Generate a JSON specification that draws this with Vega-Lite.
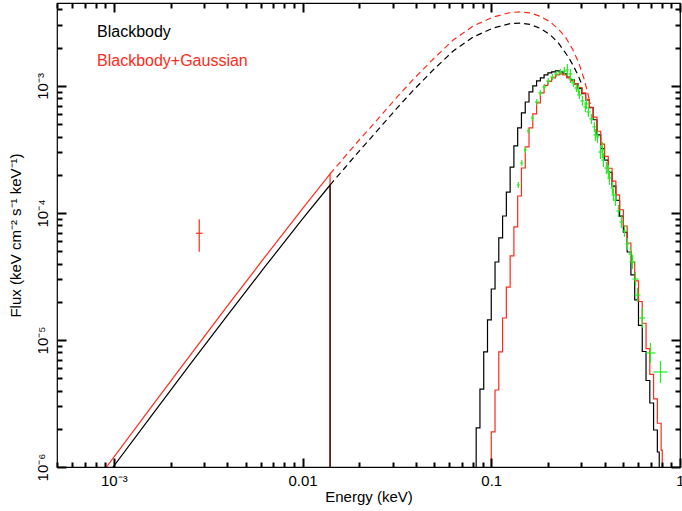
{
  "$schema": "https://vega.github.io/schema/vega-lite/v6.json",
  "width": 623,
  "height": 464,
  "autosize": {"type": "none"},
  "padding": {"left": 57, "top": 3, "right": 2, "bottom": 44},
  "background": "white",
  "config": {
    "font": "Liberation Sans",
    "view": {"stroke": "black", "strokeWidth": 1.2},
    "axis": {"domain": false, "grid": false, "labelColor": "black", "titleColor": "black", "labelFont": "Liberation Sans", "titleFont": "Liberation Sans", "labelFontSize": 15, "titleFontSize": 15, "titleFontWeight": "normal", "labelOverlap": false, "labelFlush": false, "labelBound": false}
  },
  "datasets": {
    "hist": [
      {"model": "Blackbody", "E": 0.08318, "F": 1e-8},
      {"model": "Blackbody", "E": 0.08318, "F": 2.03e-6},
      {"model": "Blackbody", "E": 0.0871, "F": 4.11e-6},
      {"model": "Blackbody", "E": 0.0912, "F": 8.05e-6},
      {"model": "Blackbody", "E": 0.0955, "F": 1.44e-5},
      {"model": "Blackbody", "E": 0.1, "F": 2.52e-5},
      {"model": "Blackbody", "E": 0.1047, "F": 4.11e-5},
      {"model": "Blackbody", "E": 0.1096, "F": 6.36e-5},
      {"model": "Blackbody", "E": 0.1148, "F": 9.47e-5},
      {"model": "Blackbody", "E": 0.1202, "F": 1.46e-4},
      {"model": "Blackbody", "E": 0.1259, "F": 2.30e-4},
      {"model": "Blackbody", "E": 0.1318, "F": 3.37e-4},
      {"model": "Blackbody", "E": 0.138, "F": 4.67e-4},
      {"model": "Blackbody", "E": 0.1445, "F": 6.13e-4},
      {"model": "Blackbody", "E": 0.1514, "F": 7.48e-4},
      {"model": "Blackbody", "E": 0.1585, "F": 8.97e-4},
      {"model": "Blackbody", "E": 0.166, "F": 1.0e-3},
      {"model": "Blackbody", "E": 0.1738, "F": 1.095e-3},
      {"model": "Blackbody", "E": 0.182, "F": 1.156e-3},
      {"model": "Blackbody", "E": 0.1905, "F": 1.221e-3},
      {"model": "Blackbody", "E": 0.1995, "F": 1.266e-3},
      {"model": "Blackbody", "E": 0.2089, "F": 1.289e-3},
      {"model": "Blackbody", "E": 0.2188, "F": 1.313e-3},
      {"model": "Blackbody", "E": 0.2291, "F": 1.289e-3},
      {"model": "Blackbody", "E": 0.2399, "F": 1.243e-3},
      {"model": "Blackbody", "E": 0.2512, "F": 1.177e-3},
      {"model": "Blackbody", "E": 0.263, "F": 1.115e-3},
      {"model": "Blackbody", "E": 0.2754, "F": 1.037e-3},
      {"model": "Blackbody", "E": 0.2884, "F": 9.56e-4},
      {"model": "Blackbody", "E": 0.302, "F": 8.68e-4},
      {"model": "Blackbody", "E": 0.3162, "F": 7.76e-4},
      {"model": "Blackbody", "E": 0.3311, "F": 6.75e-4},
      {"model": "Blackbody", "E": 0.3467, "F": 5.42e-4},
      {"model": "Blackbody", "E": 0.3631, "F": 4.12e-4},
      {"model": "Blackbody", "E": 0.3802, "F": 3.21e-4},
      {"model": "Blackbody", "E": 0.3981, "F": 2.61e-4},
      {"model": "Blackbody", "E": 0.4169, "F": 2.09e-4},
      {"model": "Blackbody", "E": 0.4365, "F": 1.63e-4},
      {"model": "Blackbody", "E": 0.4571, "F": 1.257e-4},
      {"model": "Blackbody", "E": 0.4786, "F": 9.44e-5},
      {"model": "Blackbody", "E": 0.5012, "F": 7.05e-5},
      {"model": "Blackbody", "E": 0.5248, "F": 4.93e-5},
      {"model": "Blackbody", "E": 0.5495, "F": 3.25e-5},
      {"model": "Blackbody", "E": 0.5754, "F": 2.07e-5},
      {"model": "Blackbody", "E": 0.6026, "F": 1.305e-5},
      {"model": "Blackbody", "E": 0.631, "F": 8.12e-6},
      {"model": "Blackbody", "E": 0.6607, "F": 4.80e-6},
      {"model": "Blackbody", "E": 0.6918, "F": 3.19e-6},
      {"model": "Blackbody", "E": 0.7244, "F": 1.955e-6},
      {"model": "Blackbody", "E": 0.7586, "F": 1.312e-6},
      {"model": "Blackbody", "E": 0.7762, "F": 1e-8},
      {"model": "Blackbody+Gaussian", "E": 0.1, "F": 1e-8},
      {"model": "Blackbody+Gaussian", "E": 0.1, "F": 1.89e-6},
      {"model": "Blackbody+Gaussian", "E": 0.1047, "F": 4.04e-6},
      {"model": "Blackbody+Gaussian", "E": 0.1096, "F": 8.05e-6},
      {"model": "Blackbody+Gaussian", "E": 0.1148, "F": 1.49e-5},
      {"model": "Blackbody+Gaussian", "E": 0.1202, "F": 2.61e-5},
      {"model": "Blackbody+Gaussian", "E": 0.1259, "F": 4.59e-5},
      {"model": "Blackbody+Gaussian", "E": 0.1318, "F": 7.76e-5},
      {"model": "Blackbody+Gaussian", "E": 0.138, "F": 1.36e-4},
      {"model": "Blackbody+Gaussian", "E": 0.1445, "F": 2.26e-4},
      {"model": "Blackbody+Gaussian", "E": 0.1514, "F": 3.31e-4},
      {"model": "Blackbody+Gaussian", "E": 0.1585, "F": 4.67e-4},
      {"model": "Blackbody+Gaussian", "E": 0.166, "F": 6.02e-4},
      {"model": "Blackbody+Gaussian", "E": 0.1738, "F": 7.35e-4},
      {"model": "Blackbody+Gaussian", "E": 0.182, "F": 8.81e-4},
      {"model": "Blackbody+Gaussian", "E": 0.1905, "F": 1.009e-3},
      {"model": "Blackbody+Gaussian", "E": 0.1995, "F": 1.085e-3},
      {"model": "Blackbody+Gaussian", "E": 0.2089, "F": 1.156e-3},
      {"model": "Blackbody+Gaussian", "E": 0.2188, "F": 1.221e-3},
      {"model": "Blackbody+Gaussian", "E": 0.2291, "F": 1.243e-3},
      {"model": "Blackbody+Gaussian", "E": 0.2399, "F": 1.221e-3},
      {"model": "Blackbody+Gaussian", "E": 0.2512, "F": 1.156e-3},
      {"model": "Blackbody+Gaussian", "E": 0.263, "F": 1.095e-3},
      {"model": "Blackbody+Gaussian", "E": 0.2754, "F": 1.037e-3},
      {"model": "Blackbody+Gaussian", "E": 0.2884, "F": 9.73e-4},
      {"model": "Blackbody+Gaussian", "E": 0.302, "F": 8.81e-4},
      {"model": "Blackbody+Gaussian", "E": 0.3162, "F": 7.84e-4},
      {"model": "Blackbody+Gaussian", "E": 0.3311, "F": 6.80e-4},
      {"model": "Blackbody+Gaussian", "E": 0.3467, "F": 5.68e-4},
      {"model": "Blackbody+Gaussian", "E": 0.3631, "F": 4.40e-4},
      {"model": "Blackbody+Gaussian", "E": 0.3802, "F": 3.48e-4},
      {"model": "Blackbody+Gaussian", "E": 0.3981, "F": 2.79e-4},
      {"model": "Blackbody+Gaussian", "E": 0.4169, "F": 2.25e-4},
      {"model": "Blackbody+Gaussian", "E": 0.4365, "F": 1.78e-4},
      {"model": "Blackbody+Gaussian", "E": 0.4571, "F": 1.39e-4},
      {"model": "Blackbody+Gaussian", "E": 0.4786, "F": 1.06e-4},
      {"model": "Blackbody+Gaussian", "E": 0.5012, "F": 7.90e-5},
      {"model": "Blackbody+Gaussian", "E": 0.5248, "F": 5.80e-5},
      {"model": "Blackbody+Gaussian", "E": 0.5495, "F": 4.11e-5},
      {"model": "Blackbody+Gaussian", "E": 0.5754, "F": 2.92e-5},
      {"model": "Blackbody+Gaussian", "E": 0.6026, "F": 2.01e-5},
      {"model": "Blackbody+Gaussian", "E": 0.631, "F": 1.354e-5},
      {"model": "Blackbody+Gaussian", "E": 0.6607, "F": 8.56e-6},
      {"model": "Blackbody+Gaussian", "E": 0.6918, "F": 5.36e-6},
      {"model": "Blackbody+Gaussian", "E": 0.7244, "F": 3.44e-6},
      {"model": "Blackbody+Gaussian", "E": 0.7586, "F": 2.21e-6},
      {"model": "Blackbody+Gaussian", "E": 0.7943, "F": 1.36e-6},
      {"model": "Blackbody+Gaussian", "E": 0.8054, "F": 1e-8}
    ],
    "low": [
      {"model": "Blackbody+Gaussian", "E": 0.000724, "F": 6.31e-7},
      {"model": "Blackbody+Gaussian", "E": 0.000914, "F": 1e-6},
      {"model": "Blackbody+Gaussian", "E": 0.001585, "F": 2.985e-6},
      {"model": "Blackbody+Gaussian", "E": 0.002512, "F": 7.43e-6},
      {"model": "Blackbody+Gaussian", "E": 0.003981, "F": 1.837e-5},
      {"model": "Blackbody+Gaussian", "E": 0.00631, "F": 4.49e-5},
      {"model": "Blackbody+Gaussian", "E": 0.01, "F": 1.081e-4},
      {"model": "Blackbody+Gaussian", "E": 0.01399, "F": 2.03e-4},
      {"model": "Blackbody+Gaussian", "E": 0.01399, "F": 1e-8},
      {"model": "Blackbody", "E": 0.000794, "F": 6.46e-7},
      {"model": "Blackbody", "E": 0.000991, "F": 1e-6},
      {"model": "Blackbody", "E": 0.001585, "F": 2.535e-6},
      {"model": "Blackbody", "E": 0.002512, "F": 6.30e-6},
      {"model": "Blackbody", "E": 0.003981, "F": 1.549e-5},
      {"model": "Blackbody", "E": 0.00631, "F": 3.76e-5},
      {"model": "Blackbody", "E": 0.01, "F": 8.97e-5},
      {"model": "Blackbody", "E": 0.01399, "F": 1.66e-4},
      {"model": "Blackbody", "E": 0.01399, "F": 1e-8}
    ],
    "dashed": [
      {"model": "Blackbody", "E": 0.01399, "F": 1.66e-4},
      {"model": "Blackbody", "E": 0.01681, "F": 2.28e-4},
      {"model": "Blackbody", "E": 0.02018, "F": 3.13e-4},
      {"model": "Blackbody", "E": 0.02281, "F": 3.83e-4},
      {"model": "Blackbody", "E": 0.02674, "F": 5.02e-4},
      {"model": "Blackbody", "E": 0.03172, "F": 6.71e-4},
      {"model": "Blackbody", "E": 0.03857, "F": 9.22e-4},
      {"model": "Blackbody", "E": 0.04923, "F": 1.337e-3},
      {"model": "Blackbody", "E": 0.06287, "F": 1.886e-3},
      {"model": "Blackbody", "E": 0.08026, "F": 2.43e-3},
      {"model": "Blackbody", "E": 0.1025, "F": 2.86e-3},
      {"model": "Blackbody", "E": 0.1261, "F": 3.10e-3},
      {"model": "Blackbody", "E": 0.1425, "F": 3.13e-3},
      {"model": "Blackbody", "E": 0.161, "F": 3.05e-3},
      {"model": "Blackbody", "E": 0.182, "F": 2.84e-3},
      {"model": "Blackbody", "E": 0.2056, "F": 2.52e-3},
      {"model": "Blackbody", "E": 0.2267, "F": 2.18e-3},
      {"model": "Blackbody", "E": 0.241, "F": 1.92e-3},
      {"model": "Blackbody", "E": 0.2562, "F": 1.69e-3},
      {"model": "Blackbody", "E": 0.2723, "F": 1.44e-3},
      {"model": "Blackbody", "E": 0.2894, "F": 1.20e-3},
      {"model": "Blackbody", "E": 0.304, "F": 1.0e-3},
      {"model": "Blackbody+Gaussian", "E": 0.01399, "F": 2.03e-4},
      {"model": "Blackbody+Gaussian", "E": 0.01681, "F": 2.79e-4},
      {"model": "Blackbody+Gaussian", "E": 0.02018, "F": 3.83e-4},
      {"model": "Blackbody+Gaussian", "E": 0.02281, "F": 4.67e-4},
      {"model": "Blackbody+Gaussian", "E": 0.02674, "F": 6.13e-4},
      {"model": "Blackbody+Gaussian", "E": 0.03172, "F": 8.19e-4},
      {"model": "Blackbody+Gaussian", "E": 0.03857, "F": 1.125e-3},
      {"model": "Blackbody+Gaussian", "E": 0.04923, "F": 1.63e-3},
      {"model": "Blackbody+Gaussian", "E": 0.06287, "F": 2.30e-3},
      {"model": "Blackbody+Gaussian", "E": 0.08026, "F": 2.97e-3},
      {"model": "Blackbody+Gaussian", "E": 0.1025, "F": 3.49e-3},
      {"model": "Blackbody+Gaussian", "E": 0.1261, "F": 3.79e-3},
      {"model": "Blackbody+Gaussian", "E": 0.1425, "F": 3.83e-3},
      {"model": "Blackbody+Gaussian", "E": 0.161, "F": 3.76e-3},
      {"model": "Blackbody+Gaussian", "E": 0.182, "F": 3.53e-3},
      {"model": "Blackbody+Gaussian", "E": 0.2056, "F": 3.19e-3},
      {"model": "Blackbody+Gaussian", "E": 0.2267, "F": 2.81e-3},
      {"model": "Blackbody+Gaussian", "E": 0.247, "F": 2.43e-3},
      {"model": "Blackbody+Gaussian", "E": 0.269, "F": 1.96e-3},
      {"model": "Blackbody+Gaussian", "E": 0.2894, "F": 1.55e-3},
      {"model": "Blackbody+Gaussian", "E": 0.3115, "F": 1.115e-3},
      {"model": "Blackbody+Gaussian", "E": 0.3351, "F": 7.22e-4}
    ],
    "green": [
      {"E": 0.1391, "F": 1.661e-4, "Elo": 0.1366, "Ehi": 0.1417, "Flo": 1.573e-4, "Fhi": 1.754e-4},
      {"E": 0.1451, "F": 2.475e-4, "Elo": 0.1425, "Ehi": 0.1478, "Flo": 2.344e-4, "Fhi": 2.613e-4},
      {"E": 0.1515, "F": 3.133e-4, "Elo": 0.1487, "Ehi": 0.1543, "Flo": 2.967e-4, "Fhi": 3.308e-4},
      {"E": 0.1571, "F": 4.42e-4, "Elo": 0.1542, "Ehi": 0.16, "Flo": 4.186e-4, "Fhi": 4.667e-4},
      {"E": 0.165, "F": 5.6e-4, "Elo": 0.162, "Ehi": 0.1681, "Flo": 5.303e-4, "Fhi": 5.913e-4},
      {"E": 0.1743, "F": 7.48e-4, "Elo": 0.1701, "Ehi": 0.1786, "Flo": 7.084e-4, "Fhi": 7.898e-4},
      {"E": 0.1819, "F": 8.81e-4, "Elo": 0.1775, "Ehi": 0.1864, "Flo": 8.344e-4, "Fhi": 9.302e-4},
      {"E": 0.191, "F": 9.82e-4, "Elo": 0.1864, "Ehi": 0.1957, "Flo": 9.3e-4, "Fhi": 1.037e-3},
      {"E": 0.2006, "F": 1.095e-3, "Elo": 0.1958, "Ehi": 0.2056, "Flo": 1.037e-3, "Fhi": 1.156e-3},
      {"E": 0.2107, "F": 1.177e-3, "Elo": 0.2056, "Ehi": 0.2159, "Flo": 1.115e-3, "Fhi": 1.243e-3},
      {"E": 0.2212, "F": 1.243e-3, "Elo": 0.2159, "Ehi": 0.2267, "Flo": 1.177e-3, "Fhi": 1.312e-3},
      {"E": 0.2323, "F": 1.289e-3, "Elo": 0.2267, "Ehi": 0.238, "Flo": 1.221e-3, "Fhi": 1.361e-3},
      {"E": 0.2439, "F": 1.313e-3, "Elo": 0.238, "Ehi": 0.2499, "Flo": 1.221e-3, "Fhi": 1.412e-3},
      {"E": 0.253, "F": 1.337e-3, "Elo": 0.2484, "Ehi": 0.2577, "Flo": 1.199e-3, "Fhi": 1.491e-3},
      {"E": 0.2625, "F": 1.135e-3, "Elo": 0.2562, "Ehi": 0.269, "Flo": 1.056e-3, "Fhi": 1.22e-3},
      {"E": 0.2625, "F": 1.243e-3, "Elo": 0.2562, "Ehi": 0.269, "Flo": 1.135e-3, "Fhi": 1.361e-3},
      {"E": 0.2723, "F": 1.056e-3, "Elo": 0.2657, "Ehi": 0.279, "Flo": 9.82e-4, "Fhi": 1.135e-3},
      {"E": 0.2824, "F": 9.64e-4, "Elo": 0.2756, "Ehi": 0.2894, "Flo": 8.97e-4, "Fhi": 1.037e-3},
      {"E": 0.2894, "F": 9.3e-4, "Elo": 0.2824, "Ehi": 0.2965, "Flo": 8.49e-4, "Fhi": 1.018e-3},
      {"E": 0.293, "F": 8.49e-4, "Elo": 0.2859, "Ehi": 0.3002, "Flo": 7.9e-4, "Fhi": 9.13e-4},
      {"E": 0.304, "F": 7.62e-4, "Elo": 0.2967, "Ehi": 0.3115, "Flo": 6.96e-4, "Fhi": 8.34e-4},
      {"E": 0.3153, "F": 6.83e-4, "Elo": 0.3077, "Ehi": 0.3231, "Flo": 6.24e-4, "Fhi": 7.48e-4},
      {"E": 0.3191, "F": 7.22e-4, "Elo": 0.3114, "Ehi": 0.327, "Flo": 6.59e-4, "Fhi": 7.91e-4},
      {"E": 0.3271, "F": 6.24e-4, "Elo": 0.3192, "Ehi": 0.3352, "Flo": 5.7e-4, "Fhi": 6.83e-4},
      {"E": 0.3393, "F": 5.5e-4, "Elo": 0.3311, "Ehi": 0.3477, "Flo": 5.02e-4, "Fhi": 6.02e-4},
      {"E": 0.3519, "F": 4.76e-4, "Elo": 0.3434, "Ehi": 0.3606, "Flo": 4.35e-4, "Fhi": 5.21e-4},
      {"E": 0.3562, "F": 4.11e-4, "Elo": 0.3476, "Ehi": 0.365, "Flo": 3.69e-4, "Fhi": 4.58e-4},
      {"E": 0.365, "F": 3.97e-4, "Elo": 0.3562, "Ehi": 0.374, "Flo": 3.56e-4, "Fhi": 4.43e-4},
      {"E": 0.3786, "F": 3.02e-4, "Elo": 0.3695, "Ehi": 0.388, "Flo": 2.66e-4, "Fhi": 3.43e-4},
      {"E": 0.388, "F": 3.13e-4, "Elo": 0.3786, "Ehi": 0.3976, "Flo": 2.71e-4, "Fhi": 3.62e-4},
      {"E": 0.3928, "F": 2.61e-4, "Elo": 0.3833, "Ehi": 0.4025, "Flo": 2.3e-4, "Fhi": 2.96e-4},
      {"E": 0.4074, "F": 2.26e-4, "Elo": 0.3976, "Ehi": 0.4175, "Flo": 2.03e-4, "Fhi": 2.52e-4},
      {"E": 0.4176, "F": 2.1e-4, "Elo": 0.4075, "Ehi": 0.4279, "Flo": 1.85e-4, "Fhi": 2.38e-4},
      {"E": 0.4227, "F": 1.886e-4, "Elo": 0.4125, "Ehi": 0.4331, "Flo": 1.661e-4, "Fhi": 2.141e-4},
      {"E": 0.4385, "F": 1.574e-4, "Elo": 0.4279, "Ehi": 0.4493, "Flo": 1.412e-4, "Fhi": 1.755e-4},
      {"E": 0.4438, "F": 1.386e-4, "Elo": 0.4331, "Ehi": 0.4548, "Flo": 1.243e-4, "Fhi": 1.545e-4},
      {"E": 0.4548, "F": 1.266e-4, "Elo": 0.4438, "Ehi": 0.466, "Flo": 1.136e-4, "Fhi": 1.411e-4},
      {"E": 0.4717, "F": 1.037e-4, "Elo": 0.4603, "Ehi": 0.4834, "Flo": 9.3e-5, "Fhi": 1.156e-4},
      {"E": 0.4894, "F": 8.49e-5, "Elo": 0.4776, "Ehi": 0.5015, "Flo": 7.62e-5, "Fhi": 9.47e-5},
      {"E": 0.5076, "F": 7.22e-5, "Elo": 0.4954, "Ehi": 0.5201, "Flo": 6.48e-5, "Fhi": 8.05e-5},
      {"E": 0.5266, "F": 5.7e-5, "Elo": 0.5139, "Ehi": 0.5396, "Flo": 5.11e-5, "Fhi": 6.35e-5},
      {"E": 0.5462, "F": 4.76e-5, "Elo": 0.533, "Ehi": 0.5597, "Flo": 4.19e-5, "Fhi": 5.4e-5},
      {"E": 0.5598, "F": 4.11e-5, "Elo": 0.5397, "Ehi": 0.5807, "Flo": 3.62e-5, "Fhi": 4.67e-5},
      {"E": 0.5806, "F": 3.02e-5, "Elo": 0.5597, "Ehi": 0.6023, "Flo": 2.66e-5, "Fhi": 3.43e-5},
      {"E": 0.595, "F": 2.26e-5, "Elo": 0.5736, "Ehi": 0.6172, "Flo": 1.99e-5, "Fhi": 2.57e-5},
      {"E": 0.6303, "F": 1.49e-5, "Elo": 0.6076, "Ehi": 0.6538, "Flo": 1.243e-5, "Fhi": 1.786e-5},
      {"E": 0.6976, "F": 7.9e-6, "Elo": 0.6563, "Ehi": 0.7416, "Flo": 6.59e-6, "Fhi": 9.47e-6},
      {"E": 0.788, "F": 5.6e-6, "Elo": 0.7234, "Ehi": 0.8584, "Flo": 4.59e-6, "Fhi": 6.83e-6}
    ],
    "redpt": [
      {"E": 0.002835, "F": 6.92e-5, "Elo": 0.00272, "Ehi": 0.002955, "Flo": 4.96e-5, "Fhi": 8.92e-5}
    ]
  },
  "resolve": {"axis": {"x": "independent", "y": "independent"}},
  "layer": [
    {
      "data": {"name": "dashed"},
      "mark": {"type": "line", "clip": true, "strokeWidth": 1.2, "strokeDash": [6, 4]},
      "encoding": {
        "x": {"field": "E", "type": "quantitative", "scale": {"type": "log", "domain": [0.0005, 1.0], "nice": false},
          "axis": {"orient": "bottom", "ticks": true, "tickColor": "black", "tickWidth": 2, "tickSize": -9, "zindex": 3, "title": "Energy (keV)", "values": [0.001, 0.01, 0.1, 1],
            "labelExpr": "datum.value == 0.001 ? '10⁻³' : datum.value == 0.01 ? '0.01' : datum.value == 0.1 ? '0.1' : '1'",
            "labelPadding": 15, "labelBaseline": "top", "labelAlign": "center", "titleBaseline": "top", "titleY": 22}},
        "y": {"field": "F", "type": "quantitative", "scale": {"type": "log", "domain": [0.000001, 0.0045], "nice": false},
          "axis": {"orient": "left", "ticks": true, "tickColor": "black", "tickWidth": 2, "tickSize": -9, "zindex": 3, "title": "Flux (keV cm⁻² s⁻¹ keV⁻¹)", "values": [0.000001, 0.00001, 0.0001, 0.001],
            "labelExpr": "datum.value == 0.000001 ? '10⁻⁶' : datum.value == 0.00001 ? '10⁻⁵' : datum.value == 0.0001 ? '10⁻⁴' : '10⁻³'",
            "labelAngle": -90, "labelAlign": "center", "labelBaseline": "bottom", "labelPadding": 16,
            "titleAngle": -90, "titleAlign": "center", "titleBaseline": "middle", "titleX": -42, "titleY": 232}},
        "color": {"field": "model", "type": "nominal", "scale": {"domain": ["Blackbody", "Blackbody+Gaussian"], "range": ["#000000", "#ff2a1a"]},
          "legend": {"title": null, "orient": "none", "legendX": 24, "legendY": 21, "padding": 0, "symbolSize": 0, "symbolOpacity": 0, "symbolStrokeWidth": 0, "labelOffset": 0, "labelFontSize": 16, "labelFont": "Liberation Sans", "rowPadding": 13,
            "encode": {"labels": {"update": {"fill": {"signal": "datum.value === 'Blackbody' ? '#000000' : '#ff2a1a'"}}}}}}
      }
    },
    {
      "data": {"name": "low"},
      "mark": {"type": "line", "clip": true, "strokeWidth": 1.2},
      "encoding": {
        "x": {"field": "E", "type": "quantitative", "scale": {"type": "log", "domain": [0.0005, 1.0], "nice": false},
          "axis": {"orient": "top", "ticks": true, "tickColor": "black", "tickWidth": 2, "tickSize": -9, "zindex": 3, "title": null, "labels": false, "values": [0.001, 0.01, 0.1, 1]}},
        "y": {"field": "F", "type": "quantitative", "scale": {"type": "log", "domain": [0.000001, 0.0045], "nice": false},
          "axis": {"orient": "right", "ticks": true, "tickColor": "black", "tickWidth": 2, "tickSize": -9, "zindex": 3, "title": null, "labels": false, "values": [0.000001, 0.00001, 0.0001, 0.001]}},
        "color": {"field": "model", "type": "nominal", "scale": {"domain": ["Blackbody", "Blackbody+Gaussian"], "range": ["#000000", "#ff2a1a"]},
          "legend": {"title": null, "orient": "none", "legendX": 24, "legendY": 21, "padding": 0, "symbolSize": 0, "symbolOpacity": 0, "symbolStrokeWidth": 0, "labelOffset": 0, "labelFontSize": 16, "labelFont": "Liberation Sans", "rowPadding": 13,
            "encode": {"labels": {"update": {"fill": {"signal": "datum.value === 'Blackbody' ? '#000000' : '#ff2a1a'"}}}}}}
      }
    },
    {
      "data": {"name": "hist"},
      "mark": {"type": "line", "clip": true, "strokeWidth": 1.2, "interpolate": "step-after"},
      "encoding": {
        "x": {"field": "E", "type": "quantitative", "scale": {"type": "log", "domain": [0.0005, 1.0], "nice": false},
          "axis": {"orient": "bottom", "ticks": true, "tickColor": "black", "tickWidth": 2, "tickSize": -5, "zindex": 3, "title": null, "labels": false, "values": [0.0005,0.0006,0.0007,0.0008,0.0009,0.002,0.003,0.004,0.005,0.006,0.007,0.008,0.009,0.02,0.03,0.04,0.05,0.06,0.07,0.08,0.09,0.2,0.3,0.4,0.5,0.6,0.7,0.8,0.9]}},
        "y": {"field": "F", "type": "quantitative", "scale": {"type": "log", "domain": [0.000001, 0.0045], "nice": false},
          "axis": {"orient": "left", "ticks": true, "tickColor": "black", "tickWidth": 2, "tickSize": -5, "zindex": 3, "title": null, "labels": false, "values": [0.000002,0.000003,0.000004,0.000005,0.000006,0.000007,0.000008,0.000009,0.00002,0.00003,0.00004,0.00005,0.00006,0.00007,0.00008,0.00009,0.0002,0.0003,0.0004,0.0005,0.0006,0.0007,0.0008,0.0009,0.002,0.003,0.004]}},
        "color": {"field": "model", "type": "nominal", "scale": {"domain": ["Blackbody", "Blackbody+Gaussian"], "range": ["#000000", "#ff2a1a"]},
          "legend": {"title": null, "orient": "none", "legendX": 24, "legendY": 21, "padding": 0, "symbolSize": 0, "symbolOpacity": 0, "symbolStrokeWidth": 0, "labelOffset": 0, "labelFontSize": 16, "labelFont": "Liberation Sans", "rowPadding": 13,
            "encode": {"labels": {"update": {"fill": {"signal": "datum.value === 'Blackbody' ? '#000000' : '#ff2a1a'"}}}}}}
      }
    },
    {
      "data": {"name": "green"},
      "mark": {"type": "rule", "clip": true, "strokeWidth": 1.2, "color": "#22ee22"},
      "encoding": {
        "x": {"field": "Elo", "type": "quantitative", "scale": {"type": "log", "domain": [0.0005, 1.0], "nice": false},
          "axis": {"orient": "top", "ticks": true, "tickColor": "black", "tickWidth": 2, "tickSize": -5, "zindex": 3, "title": null, "labels": false, "values": [0.0005,0.0006,0.0007,0.0008,0.0009,0.002,0.003,0.004,0.005,0.006,0.007,0.008,0.009,0.02,0.03,0.04,0.05,0.06,0.07,0.08,0.09,0.2,0.3,0.4,0.5,0.6,0.7,0.8,0.9]}},
        "x2": {"field": "Ehi"},
        "y": {"field": "F", "type": "quantitative", "scale": {"type": "log", "domain": [0.000001, 0.0045], "nice": false},
          "axis": {"orient": "right", "ticks": true, "tickColor": "black", "tickWidth": 2, "tickSize": -5, "zindex": 3, "title": null, "labels": false, "values": [0.000002,0.000003,0.000004,0.000005,0.000006,0.000007,0.000008,0.000009,0.00002,0.00003,0.00004,0.00005,0.00006,0.00007,0.00008,0.00009,0.0002,0.0003,0.0004,0.0005,0.0006,0.0007,0.0008,0.0009,0.002,0.003,0.004]}}
      }
    },
    {
      "data": {"name": "green"},
      "mark": {"type": "rule", "clip": true, "strokeWidth": 1.2, "color": "#22ee22"},
      "encoding": {
        "x": {"field": "E", "type": "quantitative", "scale": {"type": "log", "domain": [0.0005, 1.0], "nice": false}, "axis": null},
        "y": {"field": "Flo", "type": "quantitative", "scale": {"type": "log", "domain": [0.000001, 0.0045], "nice": false}, "axis": null},
        "y2": {"field": "Fhi"}
      }
    },
    {
      "data": {"name": "redpt"},
      "mark": {"type": "rule", "clip": true, "strokeWidth": 1.2, "color": "#ff2a1a"},
      "encoding": {
        "x": {"field": "Elo", "type": "quantitative", "scale": {"type": "log", "domain": [0.0005, 1.0], "nice": false}, "axis": null},
        "x2": {"field": "Ehi"},
        "y": {"field": "F", "type": "quantitative", "scale": {"type": "log", "domain": [0.000001, 0.0045], "nice": false}, "axis": null}
      }
    },
    {
      "data": {"name": "redpt"},
      "mark": {"type": "rule", "clip": true, "strokeWidth": 1.2, "color": "#ff2a1a"},
      "encoding": {
        "x": {"field": "E", "type": "quantitative", "scale": {"type": "log", "domain": [0.0005, 1.0], "nice": false}, "axis": null},
        "y": {"field": "Flo", "type": "quantitative", "scale": {"type": "log", "domain": [0.000001, 0.0045], "nice": false}, "axis": null},
        "y2": {"field": "Fhi"}
      }
    }
  ]
}
